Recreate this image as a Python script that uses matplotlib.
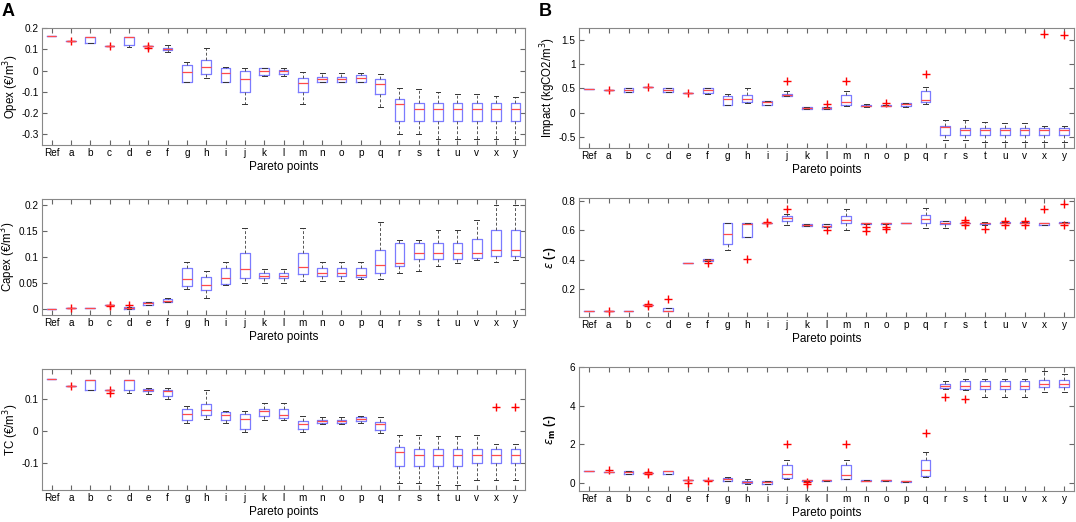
import matplotlib
matplotlib.use('Agg')
import matplotlib.pyplot as plt

plt.rcParams['font.family'] = ['Liberation Sans', 'DejaVu Sans']
plt.rcParams['axes.unicode_minus'] = False

cats = ['Ref', 'a', 'b', 'c', 'd', 'e', 'f', 'g', 'h', 'i', 'j', 'k', 'l',
        'm', 'n', 'o', 'p', 'q', 'r', 's', 't', 'u', 'v', 'x', 'y']

# rows: whisker low, q1, median, q3, whisker high
opex = [
    [0.161, 0.161, 0.161, 0.161, 0.161],
    [0.141, 0.141, 0.141, 0.141, 0.141],
    [0.13, 0.13, 0.157, 0.157, 0.157],
    [0.117, 0.117, 0.117, 0.117, 0.117],
    [0.109, 0.122, 0.157, 0.157, 0.157],
    [0.117, 0.117, 0.117, 0.117, 0.117],
    [0.086, 0.095, 0.102, 0.106, 0.119],
    [-0.053, -0.053, -0.006, 0.025, 0.04],
    [-0.034, -0.014, 0.017, 0.048, 0.106],
    [-0.053, -0.053, -0.01, 0.012, 0.016],
    [-0.156, -0.1, -0.039, -0.003, 0.012],
    [-0.027, -0.019, -0.003, 0.01, 0.012],
    [-0.027, -0.017, -0.004, 0.002, 0.012],
    [-0.156, -0.1, -0.058, -0.034, -0.006],
    [-0.052, -0.052, -0.042, -0.031, -0.011],
    [-0.052, -0.052, -0.042, -0.031, -0.011],
    [-0.052, -0.052, -0.033, -0.022, -0.011],
    [-0.17, -0.109, -0.064, -0.039, -0.016],
    [-0.298, -0.237, -0.156, -0.133, -0.081],
    [-0.298, -0.237, -0.183, -0.152, -0.086],
    [-0.322, -0.237, -0.183, -0.152, -0.1],
    [-0.322, -0.237, -0.183, -0.152, -0.108],
    [-0.322, -0.237, -0.183, -0.152, -0.108],
    [-0.322, -0.237, -0.183, -0.152, -0.12],
    [-0.322, -0.237, -0.183, -0.152, -0.125],
]
opex_out = {'a': [0.141], 'c': [0.117], 'e': [0.117, 0.106]}

capex = [
    [0.0, 0.0, 0.0, 0.0, 0.0],
    [0.002, 0.002, 0.002, 0.002, 0.002],
    [0.002, 0.002, 0.002, 0.002, 0.002],
    [0.0075, 0.0075, 0.0075, 0.0075, 0.0075],
    [0.001, 0.001, 0.003, 0.005, 0.005],
    [0.009, 0.009, 0.012, 0.014, 0.014],
    [0.0145, 0.0145, 0.015, 0.019, 0.021],
    [0.039, 0.044, 0.057, 0.079, 0.091],
    [0.021, 0.036, 0.047, 0.062, 0.074],
    [0.047, 0.048, 0.06, 0.079, 0.091],
    [0.05, 0.06, 0.077, 0.107, 0.156],
    [0.05, 0.06, 0.063, 0.069, 0.077],
    [0.05, 0.06, 0.063, 0.069, 0.077],
    [0.055, 0.067, 0.08, 0.107, 0.156],
    [0.055, 0.063, 0.07, 0.079, 0.091],
    [0.055, 0.063, 0.07, 0.079, 0.091],
    [0.058, 0.062, 0.065, 0.079, 0.091],
    [0.058, 0.069, 0.084, 0.113, 0.167],
    [0.069, 0.082, 0.089, 0.126, 0.133],
    [0.074, 0.097, 0.108, 0.126, 0.133],
    [0.082, 0.097, 0.108, 0.126, 0.151],
    [0.089, 0.097, 0.108, 0.126, 0.151],
    [0.094, 0.099, 0.108, 0.135, 0.171],
    [0.091, 0.101, 0.114, 0.151, 0.199],
    [0.094, 0.101, 0.114, 0.151, 0.2],
]
capex_out = {'a': [0.002], 'c': [0.009, 0.006], 'd': [0.009]}

tc = [
    [0.163, 0.163, 0.163, 0.163, 0.163],
    [0.143, 0.143, 0.143, 0.143, 0.143],
    [0.131, 0.131, 0.162, 0.162, 0.162],
    [0.131, 0.131, 0.131, 0.131, 0.131],
    [0.119, 0.128, 0.162, 0.162, 0.162],
    [0.117, 0.126, 0.131, 0.134, 0.136],
    [0.1, 0.11, 0.125, 0.128, 0.136],
    [0.024, 0.034, 0.052, 0.07, 0.078],
    [0.039, 0.049, 0.065, 0.086, 0.131],
    [0.024, 0.034, 0.049, 0.06, 0.063],
    [-0.002, 0.005, 0.039, 0.055, 0.062],
    [0.036, 0.046, 0.062, 0.07, 0.088],
    [0.036, 0.041, 0.049, 0.07, 0.088],
    [-0.002, 0.005, 0.021, 0.031, 0.048],
    [0.023, 0.025, 0.031, 0.036, 0.045],
    [0.023, 0.025, 0.031, 0.036, 0.045],
    [0.025, 0.031, 0.037, 0.044, 0.048],
    [-0.005, 0.004, 0.021, 0.028, 0.044],
    [-0.166, -0.112, -0.066, -0.051, -0.014],
    [-0.166, -0.112, -0.075, -0.056, -0.014],
    [-0.172, -0.112, -0.075, -0.056, -0.016],
    [-0.172, -0.112, -0.075, -0.056, -0.016],
    [-0.156, -0.101, -0.075, -0.056, -0.014],
    [-0.156, -0.101, -0.075, -0.056, -0.04],
    [-0.156, -0.101, -0.075, -0.056, -0.04],
]
tc_out = {'a': [0.143], 'c': [0.131, 0.121], 'x': [0.076], 'y': [0.076]}

impact = [
    [0.49, 0.49, 0.49, 0.49, 0.49],
    [0.464, 0.464, 0.464, 0.464, 0.464],
    [0.43, 0.43, 0.47, 0.5, 0.5],
    [0.53, 0.53, 0.53, 0.53, 0.53],
    [0.43, 0.43, 0.47, 0.5, 0.5],
    [0.41, 0.41, 0.41, 0.41, 0.41],
    [0.38, 0.41, 0.478, 0.5, 0.5],
    [0.17, 0.17, 0.29, 0.34, 0.396],
    [0.2, 0.225, 0.287, 0.36, 0.5],
    [0.17, 0.17, 0.225, 0.24, 0.25],
    [0.34, 0.34, 0.37, 0.39, 0.444],
    [0.082, 0.082, 0.1, 0.123, 0.123],
    [0.082, 0.082, 0.096, 0.123, 0.123],
    [0.15, 0.17, 0.218, 0.36, 0.444],
    [0.123, 0.137, 0.15, 0.17, 0.184],
    [0.137, 0.137, 0.15, 0.17, 0.17],
    [0.123, 0.15, 0.177, 0.2, 0.2],
    [0.19, 0.218, 0.273, 0.444, 0.53],
    [-0.546, -0.457, -0.293, -0.26, -0.137],
    [-0.546, -0.457, -0.36, -0.307, -0.15],
    [-0.594, -0.457, -0.36, -0.307, -0.19],
    [-0.594, -0.457, -0.36, -0.307, -0.2],
    [-0.594, -0.457, -0.36, -0.307, -0.2],
    [-0.594, -0.457, -0.36, -0.307, -0.26],
    [-0.594, -0.457, -0.36, -0.307, -0.27],
]
impact_out = {'a': [0.464], 'c': [0.53], 'e': [0.41], 'j': [0.66], 'l': [0.184],
              'm': [0.66], 'o': [0.205], 'q': [0.805], 'x': [1.625], 'y': [1.6]}

eps = [
    [0.05, 0.05, 0.05, 0.05, 0.05],
    [0.05, 0.05, 0.05, 0.05, 0.05],
    [0.05, 0.05, 0.05, 0.05, 0.05],
    [0.095, 0.095, 0.095, 0.095, 0.095],
    [0.05, 0.05, 0.05, 0.073, 0.073],
    [0.375, 0.375, 0.375, 0.375, 0.375],
    [0.391, 0.391, 0.398, 0.402, 0.402],
    [0.464, 0.505, 0.575, 0.652, 0.652],
    [0.555, 0.555, 0.641, 0.652, 0.652],
    [0.652, 0.652, 0.652, 0.652, 0.652],
    [0.636, 0.664, 0.682, 0.698, 0.709],
    [0.63, 0.63, 0.636, 0.643, 0.643],
    [0.625, 0.625, 0.632, 0.641, 0.641],
    [0.602, 0.648, 0.67, 0.698, 0.743],
    [0.643, 0.643, 0.648, 0.652, 0.652],
    [0.643, 0.643, 0.648, 0.652, 0.652],
    [0.652, 0.652, 0.652, 0.652, 0.652],
    [0.618, 0.652, 0.675, 0.705, 0.755],
    [0.618, 0.641, 0.652, 0.661, 0.666],
    [0.648, 0.648, 0.652, 0.652, 0.652],
    [0.636, 0.641, 0.648, 0.652, 0.654],
    [0.648, 0.648, 0.653, 0.657, 0.657],
    [0.648, 0.648, 0.653, 0.657, 0.657],
    [0.636, 0.639, 0.652, 0.652, 0.652],
    [0.65, 0.65, 0.653, 0.657, 0.657],
]
eps_out = {'a': [0.05], 'c': [0.098, 0.084], 'd': [0.132], 'f': [0.375],
           'h': [0.402], 'i': [0.657, 0.652], 'j': [0.748], 'l': [0.602],
           'n': [0.625, 0.598], 'o': [0.625, 0.606], 's': [0.67, 0.659, 0.636],
           't': [0.609], 'u': [0.666, 0.639], 'v': [0.666, 0.639],
           'x': [0.748], 'y': [0.78, 0.639]}

eps_m = [
    [0.63, 0.63, 0.63, 0.63, 0.63],
    [0.56, 0.56, 0.56, 0.56, 0.56],
    [0.47, 0.47, 0.56, 0.63, 0.63],
    [0.5, 0.5, 0.5, 0.5, 0.5],
    [0.47, 0.47, 0.59, 0.63, 0.63],
    [0.12, 0.12, 0.12, 0.12, 0.12],
    [0.12, 0.12, 0.12, 0.12, 0.12],
    [0.1, 0.1, 0.17, 0.26, 0.3],
    [-0.05, -0.02, 0.03, 0.09, 0.17],
    [-0.07, -0.07, 0.03, 0.1, 0.1],
    [0.21, 0.24, 0.45, 0.9, 1.2],
    [0.09, 0.09, 0.12, 0.16, 0.16],
    [0.1, 0.1, 0.12, 0.16, 0.16],
    [0.18, 0.21, 0.42, 0.9, 1.2],
    [0.07, 0.07, 0.1, 0.14, 0.14],
    [0.07, 0.07, 0.12, 0.16, 0.16],
    [0.03, 0.03, 0.07, 0.1, 0.1],
    [0.31, 0.35, 0.64, 1.2, 1.57],
    [4.85, 4.9, 5.04, 5.13, 5.25],
    [4.82, 4.87, 5.04, 5.25, 5.37],
    [4.47, 4.87, 5.04, 5.25, 5.37],
    [4.43, 4.87, 5.04, 5.25, 5.37],
    [4.43, 4.87, 5.04, 5.25, 5.37],
    [4.7, 4.94, 5.13, 5.3, 5.8],
    [4.7, 4.94, 5.13, 5.3, 5.65],
]
eps_m_out = {'a': [0.68], 'c': [0.56, 0.47], 'e': [0.12, 0.0], 'f': [0.09],
             'j': [2.0], 'k': [0.03, -0.05], 'm': [2.0], 'q': [2.56],
             'r': [4.43], 's': [4.35]}


def make_stats(rows, out):
    stats = []
    for c, r in zip(cats, rows):
        stats.append({'whislo': r[0], 'q1': r[1], 'med': r[2], 'q3': r[3],
                      'whishi': r[4], 'fliers': out.get(c, [])})
    return stats


def draw(ax, rows, out, ylabel, ylim, yticks, bold=False, lab_off=21):
    ax.bxp(make_stats(rows, out), positions=range(1, len(cats) + 1),
           widths=0.5, capwidths=0.25,
           boxprops=dict(color='#7b7bff', linewidth=0.9),
           medianprops=dict(color='#ff4a4a', linewidth=0.9),
           whiskerprops=dict(color='#555555', linestyle=(0, (3, 2)), linewidth=0.7),
           capprops=dict(color='#333333', linewidth=0.7),
           flierprops=dict(marker='+', markeredgecolor='red', markersize=6,
                           markeredgewidth=1.0, linestyle='none'))
    ax.set_xlim(0.5, len(cats) + 0.5)
    ax.set_xticks(range(1, len(cats) + 1))
    ax.set_xticklabels(cats)
    ax.set_ylim(*ylim)
    ax.set_yticks(yticks)
    ax.set_yticklabels([('%g' % t) for t in yticks])
    ax.tick_params(direction='in', top=True, right=True, length=3.5,
                   labelsize=7.2, color='#666666', pad=2.5)
    for s in ax.spines.values():
        s.set_color('#888888')
        s.set_linewidth(0.8)
    ax.set_xlabel('Pareto points', fontsize=8.5, labelpad=2)
    ax.set_ylabel(ylabel, fontsize=8.3, fontweight='bold' if bold else 'normal')
    # y label right side lab_off px left of the axis
    w_px = ax.get_position().width * W
    ax.yaxis.set_label_coords(-lab_off / w_px, 0.5)


W, H = 1076, 522
fig = plt.figure(figsize=(W / 100, H / 100), dpi=100)


def axes_px(x0, y0, x1, y1):
    return fig.add_axes([x0 / W, 1 - y1 / H, (x1 - x0) / W, (y1 - y0) / H])


left_rows = [(28, 145), (199, 315), (369, 490)]
right_rows = [(28, 148), (198, 317), (367, 491)]

ax1 = axes_px(42, left_rows[0][0], 525, left_rows[0][1])
draw(ax1, opex, opex_out, 'Opex (€/m$^3$)', (-0.35, 0.2),
     [-0.3, -0.2, -0.1, 0, 0.1, 0.2])
ax2 = axes_px(42, left_rows[1][0], 525, left_rows[1][1])
draw(ax2, capex, capex_out, 'Capex (€/m$^3$)', (-0.011, 0.211),
     [0, 0.05, 0.1, 0.15, 0.2], lab_off=24)
ax3 = axes_px(42, left_rows[2][0], 525, left_rows[2][1])
draw(ax3, tc, tc_out, 'TC (€/m$^3$)', (-0.187, 0.196), [-0.1, 0, 0.1])

ax4 = axes_px(579, right_rows[0][0], 1074, right_rows[0][1])
draw(ax4, impact, impact_out, 'Impact (kgCO2/m$^3$)', (-0.72, 1.74),
     [-0.5, 0, 0.5, 1, 1.5])
ax5 = axes_px(579, right_rows[1][0], 1074, right_rows[1][1])
draw(ax5, eps, eps_out, r'$\epsilon$ (-)', (0.01, 0.82), [0.2, 0.4, 0.6, 0.8],
     bold=True)
ax6 = axes_px(579, right_rows[2][0], 1074, right_rows[2][1])
draw(ax6, eps_m, eps_m_out, r'$\epsilon_\mathbf{m}$ (-)', (-0.43, 6.0), [0, 2, 4, 6],
     bold=True)

fig.text(2 / W, 1 - 12 / H, 'A', fontsize=13, fontweight='bold', va='center')
fig.text(539 / W, 1 - 12 / H, 'B', fontsize=13, fontweight='bold', va='center')

fig.savefig('out.png', dpi=100)
